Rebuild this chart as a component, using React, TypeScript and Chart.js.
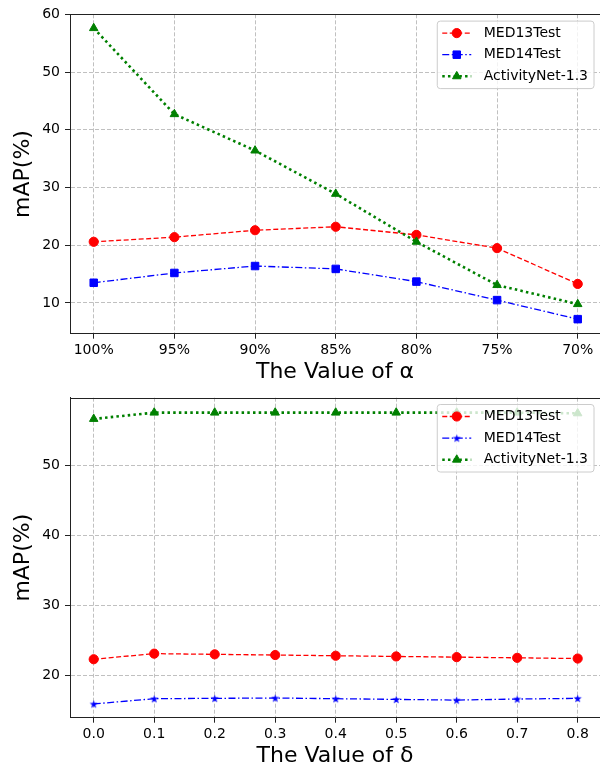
import React, { useEffect, useRef } from "react";
import { Chart, registerables } from "chart.js";

Chart.register(...registerables);

// ---------- data ----------
const alphaLabels = ["100%", "95%", "90%", "85%", "80%", "75%", "70%"];
const alphaMed13 = [20.6, 21.4, 22.6, 23.2, 21.8, 19.5, 13.3];
const alphaMed14 = [13.5, 15.2, 16.4, 15.9, 13.7, 10.5, 7.2];
const alphaActivity = [57.6, 42.7, 36.4, 28.9, 20.6, 13.1, 9.8];
const alphaYTicks = [10, 20, 30, 40, 50, 60];

const deltaValues = [0, 0.1, 0.2, 0.3, 0.4, 0.5, 0.6, 0.7, 0.8];
const deltaLabels = ["0.0", "0.1", "0.2", "0.3", "0.4", "0.5", "0.6", "0.7", "0.8"];
const deltaMed13 = [22.3, 23.1, 23.0, 22.9, 22.8, 22.7, 22.6, 22.5, 22.4];
const deltaMed14 = [15.9, 16.65, 16.7, 16.75, 16.65, 16.55, 16.45, 16.6, 16.7];
const deltaActivity = [56.7, 57.6, 57.6, 57.6, 57.6, 57.6, 57.6, 57.6, 57.5];
const deltaYTicks = [20, 30, 40, 50];

const seriesNames = ["MED13Test", "MED14Test", "ActivityNet-1.3"];

// ---------- styles ----------
const FONT = '"DejaVu Sans", "Liberation Sans", sans-serif';
const RED = "#ff0000";
const BLUE = "#0000ff";
const GREEN = "#008000";

function makeStar(color: string, r: number): HTMLCanvasElement {
  const size = Math.ceil(r * 2 + 2);
  const c = document.createElement("canvas");
  c.width = size;
  c.height = size;
  const g = c.getContext("2d")!;
  const cx = size / 2;
  const cy = size / 2 + r * 0.1;
  const inner = r * 0.4;
  g.beginPath();
  for (let i = 0; i < 10; i++) {
    const rad = i % 2 === 0 ? r : inner;
    const a = -Math.PI / 2 + (i * Math.PI) / 5;
    const px = cx + rad * Math.cos(a);
    const py = cy + rad * Math.sin(a);
    if (i === 0) g.moveTo(px, py);
    else g.lineTo(px, py);
  }
  g.closePath();
  g.fillStyle = color;
  g.fill();
  return c;
}

function drawMarker(ctx: CanvasRenderingContext2D, style: any, radius: number, color: string, x: number, y: number) {
  ctx.save();
  ctx.setLineDash([]);
  ctx.fillStyle = color;
  ctx.strokeStyle = color;
  ctx.lineWidth = 1;
  if (style instanceof HTMLCanvasElement) {
    ctx.drawImage(style, x - style.width / 2, y - style.height / 2);
  } else if (style === "circle") {
    ctx.beginPath();
    ctx.arc(x, y, radius, 0, Math.PI * 2);
    ctx.fill();
    ctx.stroke();
  } else if (style === "rect") {
    const s = radius * Math.SQRT1_2;
    ctx.beginPath();
    ctx.rect(x - s, y - s, 2 * s, 2 * s);
    ctx.fill();
    ctx.stroke();
  } else if (style === "triangle") {
    ctx.beginPath();
    ctx.moveTo(x, y - radius);
    ctx.lineTo(x + radius * 0.866, y + radius * 0.5);
    ctx.lineTo(x - radius * 0.866, y + radius * 0.5);
    ctx.closePath();
    ctx.fill();
    ctx.stroke();
  }
  ctx.restore();
}

const framePlugin = {
  id: "mplFrame",
  afterDatasetsDraw(chart: any) {
    const { ctx, chartArea } = chart;
    ctx.save();
    ctx.strokeStyle = "#222";
    ctx.lineWidth = 1;
    ctx.setLineDash([]);
    const t = Math.round(chartArea.top) + 0.5;
    ctx.beginPath();
    ctx.moveTo(chartArea.left, t);
    ctx.lineTo(chartArea.right, t);
    ctx.stroke();
    ctx.restore();
  },
};

const legendPlugin = {
  id: "mplLegend",
  afterDraw(chart: any) {
    const { ctx, chartArea } = chart;
    const ds = chart.data.datasets;
    ctx.save();
    ctx.font = `14px ${FONT}`;
    const textW = Math.max(...ds.map((d: any) => ctx.measureText(d.label).width));
    const w = 46.5 + textW + 6;
    const h = 67.5;
    const x0 = chartArea.right - 6 - w;
    const y0 = chartArea.top + 6.8;
    const r = 3;
    ctx.beginPath();
    ctx.moveTo(x0 + r, y0);
    ctx.lineTo(x0 + w - r, y0);
    ctx.arcTo(x0 + w, y0, x0 + w, y0 + r, r);
    ctx.lineTo(x0 + w, y0 + h - r);
    ctx.arcTo(x0 + w, y0 + h, x0 + w - r, y0 + h, r);
    ctx.lineTo(x0 + r, y0 + h);
    ctx.arcTo(x0, y0 + h, x0, y0 + h - r, r);
    ctx.lineTo(x0, y0 + r);
    ctx.arcTo(x0, y0, x0 + r, y0, r);
    ctx.closePath();
    ctx.fillStyle = "rgba(255,255,255,0.8)";
    ctx.fill();
    ctx.strokeStyle = "#cccccc";
    ctx.lineWidth = 1;
    ctx.stroke();
    ds.forEach((d: any, i: number) => {
      const cy = y0 + 12 + i * 21.6;
      ctx.save();
      ctx.strokeStyle = d.borderColor;
      ctx.lineWidth = d.borderWidth;
      ctx.setLineDash(d.borderDash || []);
      ctx.beginPath();
      ctx.moveTo(x0 + 5, cy);
      ctx.lineTo(x0 + 34, cy);
      ctx.stroke();
      ctx.restore();
      drawMarker(ctx, d.pointStyle, d.pointRadius, d.pointBackgroundColor, x0 + 19.5, cy);
      ctx.fillStyle = "#000";
      ctx.textBaseline = "middle";
      ctx.textAlign = "left";
      ctx.fillText(d.label, x0 + 46.5, cy);
    });
    ctx.restore();
  },
};

function baseDataset(label: string, data: any[], color: string, dash: number[], width: number, pointStyle: any, radius: number, order: number) {
  return {
    label,
    data,
    borderColor: color,
    backgroundColor: color,
    borderWidth: width,
    borderDash: dash,
    borderCapStyle: "butt",
    pointStyle,
    pointRadius: radius,
    pointBackgroundColor: color,
    pointBorderColor: color,
    pointBorderWidth: 1,
    tension: 0,
    fill: false,
    order,
  };
}

function makeConfig(opts: {
  xs: number[];
  xLabels: string[];
  xMin: number;
  xMax: number;
  yMin: number;
  yMax: number;
  yTicks: number[];
  xTitle: string;
  topPad: number;
  xHeight: number;
  s1: number[];
  s2: number[];
  s3: number[];
  secondStyle: any;
  secondRadius: number;
}) {
  const toPts = (arr: number[]) => arr.map((v, i) => ({ x: opts.xs[i], y: v }));
  return {
    type: "line",
    data: {
      datasets: [
        baseDataset(seriesNames[0], toPts(opts.s1), RED, [5, 2.5], 1.3, "circle", 4.6, 3),
        baseDataset(seriesNames[1], toPts(opts.s2), BLUE, [7, 2.5, 1.5, 2.5], 1.3, opts.secondStyle, opts.secondRadius, 2),
        baseDataset(seriesNames[2], toPts(opts.s3), GREEN, [2.5, 3.2], 2.6, "triangle", 4.9, 1),
      ],
    },
    options: {
      animation: false,
      responsive: true,
      maintainAspectRatio: false,
      events: [],
      layout: { autoPadding: false, padding: { top: opts.topPad, left: 0, right: 0, bottom: 0 } },
      plugins: {
        legend: { display: false },
        tooltip: { enabled: false },
      },
      scales: {
        x: {
          type: "linear",
          min: opts.xMin,
          max: opts.xMax,
          afterBuildTicks: (s: any) => {
            s.ticks = opts.xs.map((v) => ({ value: v }));
          },
          afterFit: (s: any) => {
            s.height = opts.xHeight;
            s.paddingLeft = 0;
            s.paddingRight = 0;
          },
          ticks: {
            autoSkip: false,
            maxRotation: 0,
            padding: 3.5,
            color: "#000",
            font: { family: FONT, size: 14 },
            callback: (_v: any, i: number) => opts.xLabels[i],
          },
          grid: {
            color: "#b0b0b0",
            lineWidth: 0.8,
            drawTicks: true,
            tickLength: 5,
            tickColor: "#222",
            tickWidth: 1,
            tickBorderDash: [],
          },
          border: { display: true, color: "#222", width: 1, dash: [4, 2] },
          title: {
            display: true,
            text: opts.xTitle,
            color: "#000",
            font: { family: FONT, size: 22, lineHeight: 1 },
            padding: { top: 0, bottom: 1 },
          },
        },
        y: {
          type: "linear",
          min: opts.yMin,
          max: opts.yMax,
          afterBuildTicks: (s: any) => {
            s.ticks = opts.yTicks.map((v) => ({ value: v }));
          },
          afterFit: (s: any) => {
            s.width = 70;
            s.paddingTop = 0;
            s.paddingBottom = 0;
          },
          ticks: {
            padding: 5,
            color: "#000",
            font: { family: FONT, size: 14 },
            callback: (v: any) => String(v),
          },
          grid: {
            color: "#b0b0b0",
            lineWidth: 0.8,
            drawTicks: true,
            tickLength: 5,
            tickColor: "#222",
            tickWidth: 1,
            tickBorderDash: [],
          },
          border: { display: true, color: "#222", width: 1, dash: [4, 2] },
          title: {
            display: true,
            text: "mAP(%)",
            color: "#000",
            font: { family: FONT, size: 22, lineHeight: 1 },
            padding: { top: 12, bottom: 0 },
          },
        },
      },
    },
    plugins: [framePlugin, legendPlugin],
  };
}

function ChartBox({ config }: { config: any }) {
  const ref = useRef<HTMLCanvasElement | null>(null);
  useEffect(() => {
    if (!ref.current) return;
    const chart = new Chart(ref.current, config);
    return () => chart.destroy();
  }, [config]);
  return (
    <div style={{ position: "relative", width: 600, height: 384 }}>
      <canvas ref={ref} />
    </div>
  );
}

const topConfig = makeConfig({
  xs: alphaLabels.map((_, i) => i),
  xLabels: alphaLabels,
  xMin: -0.294,
  xMax: 6.276,
  yMin: 4.68,
  yMax: 60,
  yTicks: alphaYTicks,
  xTitle: "The Value of α",
  topPad: 14.3,
  xHeight: 50.3,
  s1: alphaMed13,
  s2: alphaMed14,
  s3: alphaActivity,
  secondStyle: "rect",
  secondRadius: 5.3,
});

let starImg: HTMLCanvasElement | null = null;
function getStar() {
  if (!starImg) starImg = makeStar(BLUE, 4.3);
  return starImg;
}

export default function App() {
  const bottomConfig = React.useMemo(
    () =>
      makeConfig({
        xs: deltaValues,
        xLabels: deltaLabels,
        xMin: -0.0392,
        xMax: 0.8369,
        yMin: 13.93,
        yMax: 59.74,
        yTicks: deltaYTicks,
        xTitle: "The Value of δ",
        topPad: 13.7,
        xHeight: 50.3,
        s1: deltaMed13,
        s2: deltaMed14,
        s3: deltaActivity,
        secondStyle: getStar(),
        secondRadius: 4.3,
      }),
    []
  );
  return (
    <div
      style={{
        position: "absolute",
        left: 0,
        top: 0,
        width: 600,
        height: 768,
        background: "#fff",
        overflow: "hidden",
      }}
    >
      <ChartBox config={topConfig} />
      <ChartBox config={bottomConfig} />
    </div>
  );
}
